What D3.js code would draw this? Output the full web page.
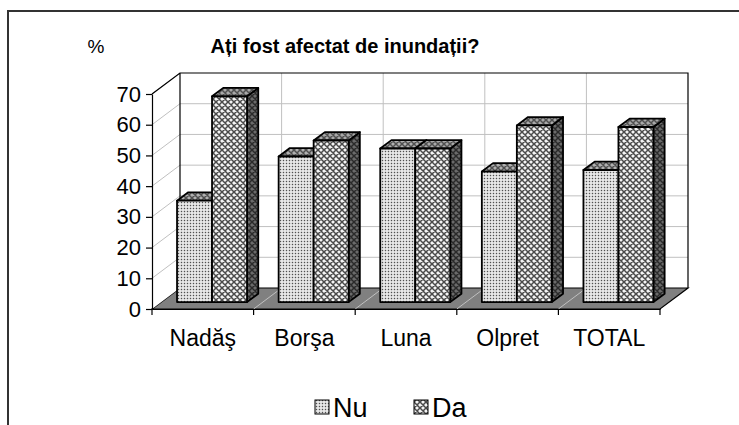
<!DOCTYPE html>
<html>
<head>
<meta charset="utf-8">
<script src="https://cdn.jsdelivr.net/npm/d3@7"></script>
<style>
  body { margin: 0; background: #fff; }
  svg { display: block; font-family: "Liberation Sans", Arial, sans-serif; }
</style>
</head>
<body>
<div id="chart"></div>
<script>
// Chart data
const categories = ['Nadăş', 'Borşa', 'Luna', 'Olpret', 'TOTAL'];
const seriesNames = ['Nu', 'Da'];
const nuValues = [33, 47.4, 50, 42.5, 43];
const daValues = [67, 52.6, 50, 57.5, 57];
const yTicks = [0, 10, 20, 30, 40, 50, 60, 70];

const width = 739;
const height = 425;

const svg = d3.select('#chart')
    .append('svg')
    .attr('width', width)
    .attr('height', height);

// Patterns (front, top, side shades for each series)
const defs = svg.append('defs');

function dotPattern(id, bg, fg) {
    const p = defs.append('pattern')
        .attr('id', id)
        .attr('patternUnits', 'userSpaceOnUse')
        .attr('width', 3).attr('height', 3);
    p.append('rect').attr('width', 3).attr('height', 3).attr('fill', bg);
    p.append('rect').attr('x', 0.8).attr('y', 0.8).attr('width', 1.4).attr('height', 1.4).attr('fill', fg);
}

function crossPattern(id, bg, fg) {
    const p = defs.append('pattern')
        .attr('id', id)
        .attr('patternUnits', 'userSpaceOnUse')
        .attr('width', 6).attr('height', 6);
    p.append('rect').attr('width', 6).attr('height', 6).attr('fill', bg);
    p.append('path')
        .attr('d', 'M0,0L6,6M6,0L0,6M-1,5L1,7M5,-1L7,1M-1,1L1,-1M5,7L7,5')
        .attr('stroke', fg)
        .attr('stroke-width', 1.5);
}

dotPattern('nu-front', '#eeeeee', '#505050');
crossPattern('nu-top', '#b0b0b0', '#505050');
crossPattern('nu-side', '#707070', '#303030');
crossPattern('da-front', '#f4f4f4', '#4a4a4a');
crossPattern('da-top', '#a8a8a8', '#505050');
crossPattern('da-side', '#6a6a6a', '#2a2a2a');

const fills = {
    Nu: { front: 'url(#nu-front)', top: 'url(#nu-top)', side: 'url(#nu-side)' },
    Da: { front: 'url(#da-front)', top: 'url(#da-top)', side: 'url(#da-side)' }
};

// Outer frame
svg.append('path')
    .attr('d', 'M8,425V11H739')
    .attr('fill', 'none')
    .attr('stroke', '#333')
    .attr('stroke-width', 2);

// Scales
const x = d3.scaleBand()
    .domain(categories)
    .range([152, 660]);

const y = d3.scaleLinear()
    .domain([0, 70])
    .range([309, 94]);

const series = d3.scaleBand()
    .domain(seriesNames)
    .range([(x.bandwidth() - 70) / 2, (x.bandwidth() + 70) / 2]);

// 3D depth offsets
const depthX = 28;
const depthY = -21;
const barFront = 0.33;
const barDepth = 0.4;

const x0 = x.range()[0];
const x1 = x.range()[1];
const yMin = y(0);
const yMax = y(70);

const walls = svg.append('g');

// Floor
walls.append('polygon')
    .attr('points', [[x0, yMin], [x1, yMin], [x1 + depthX, yMin + depthY], [x0 + depthX, yMin + depthY]].join(' '))
    .attr('fill', '#808080')
    .attr('stroke', '#000')
    .attr('stroke-width', 1.2);

// Floor gridlines
walls.selectAll('.floor-grid')
    .data(categories.slice(1))
    .enter()
    .append('line')
    .attr('x1', d => x(d))
    .attr('y1', yMin)
    .attr('x2', d => x(d) + depthX)
    .attr('y2', yMin + depthY)
    .attr('stroke', '#c0c0c0')
    .attr('stroke-width', 1);

// Left wall
walls.append('polygon')
    .attr('points', [[x0, yMin], [x0 + depthX, yMin + depthY], [x0 + depthX, yMax + depthY], [x0, yMax]].join(' '))
    .attr('fill', '#fff');

walls.selectAll('.side-grid')
    .data(yTicks.slice(1))
    .enter()
    .append('line')
    .attr('x1', x0)
    .attr('y1', d => y(d))
    .attr('x2', x0 + depthX)
    .attr('y2', d => y(d) + depthY)
    .attr('stroke', '#c0c0c0')
    .attr('stroke-width', 1);

// Back wall gridlines
walls.selectAll('.back-h')
    .data(yTicks.slice(1, -1))
    .enter()
    .append('line')
    .attr('x1', x0 + depthX)
    .attr('x2', x1 + depthX)
    .attr('y1', d => y(d) + depthY)
    .attr('y2', d => y(d) + depthY)
    .attr('stroke', '#c0c0c0')
    .attr('stroke-width', 1);

walls.selectAll('.back-v')
    .data(categories.slice(1))
    .enter()
    .append('line')
    .attr('x1', d => x(d) + depthX)
    .attr('x2', d => x(d) + depthX)
    .attr('y1', yMin + depthY)
    .attr('y2', yMax + depthY)
    .attr('stroke', '#c0c0c0')
    .attr('stroke-width', 1);

// Wall borders
walls.append('path')
    .attr('d', `M${x0},${yMax}L${x0 + depthX},${yMax + depthY}H${x1 + depthX}V${yMin + depthY}M${x0 + depthX},${yMax + depthY}V${yMin + depthY}`)
    .attr('fill', 'none')
    .attr('stroke', '#000')
    .attr('stroke-width', 1.2);

// Y axis
const yAxis = d3.axisLeft(y)
    .tickValues(yTicks)
    .tickSize(6)
    .tickPadding(5)
    .tickSizeOuter(0);

svg.append('g')
    .attr('transform', `translate(${x0},0)`)
    .call(yAxis)
    .call(g => g.select('.domain').attr('stroke', '#000').attr('stroke-width', 1.2))
    .call(g => g.selectAll('.tick line').attr('stroke', '#000').attr('stroke-width', 1.2))
    .call(g => g.selectAll('.tick text')
        .attr('fill', '#000')
        .style('font-size', '22px')
        .style('font-family', '"Liberation Sans", Arial, sans-serif'));

// X axis
const xAxis = d3.axisBottom(x)
    .tickSize(0)
    .tickPadding(21)
    .tickSizeOuter(0);

const xg = svg.append('g')
    .attr('transform', `translate(0,${yMin})`)
    .call(xAxis)
    .call(g => g.select('.domain').attr('stroke', '#000').attr('stroke-width', 1.2))
    .call(g => g.selectAll('.tick text')
        .attr('fill', '#000')
        .style('font-size', '23px')
        .style('font-family', '"Liberation Sans", Arial, sans-serif'));

xg.selectAll('.cat-tick')
    .data(categories.concat(['end']))
    .enter()
    .append('line')
    .attr('x1', (d, i) => x0 + i * x.step())
    .attr('x2', (d, i) => x0 + i * x.step())
    .attr('y1', 0)
    .attr('y2', 6)
    .attr('stroke', '#000')
    .attr('stroke-width', 1.2);

// Bars
const rows = categories.map((c, i) => ({ category: c, Nu: nuValues[i], Da: daValues[i] }));

const offX = depthX * barFront;
const offY = depthY * barFront;
const bdx = depthX * barDepth;
const bdy = depthY * barDepth;

const bars = svg.append('g');

rows.forEach(row => {
    seriesNames.forEach(s => {
        const left = x(row.category) + series(s) + offX;
        const right = left + series.bandwidth();
        const top = y(row[s]) + offY;
        const bottom = y(0) + offY;
        const g = bars.append('g')
            .attr('stroke', '#000')
            .attr('stroke-width', 1.8)
            .attr('stroke-linejoin', 'round');

        g.append('polygon')
            .attr('points', [[right, top], [right + bdx, top + bdy], [right + bdx, bottom + bdy], [right, bottom]].join(' '))
            .attr('fill', fills[s].side);

        g.append('polygon')
            .attr('points', [[left, top], [left + bdx, top + bdy], [right + bdx, top + bdy], [right, top]].join(' '))
            .attr('fill', fills[s].top);

        g.append('rect')
            .attr('x', left)
            .attr('y', top)
            .attr('width', right - left)
            .attr('height', bottom - top)
            .attr('fill', fills[s].front);
    });
});

// Titles
svg.append('text')
    .attr('x', 345)
    .attr('y', 53)
    .attr('text-anchor', 'middle')
    .style('font-size', '20px')
    .style('font-weight', 'bold')
    .text('Ați fost afectat de inundații?');

svg.append('text')
    .attr('x', 96)
    .attr('y', 53)
    .attr('text-anchor', 'middle')
    .style('font-size', '19px')
    .text('%');

// Legend
const legend = svg.append('g')
    .attr('transform', 'translate(315,0)');

const legendItems = legend.selectAll('g')
    .data(seriesNames)
    .enter()
    .append('g')
    .attr('transform', (d, i) => `translate(${i * 99},0)`);

legendItems.append('rect')
    .attr('x', 0)
    .attr('y', 400)
    .attr('width', 14)
    .attr('height', 14)
    .attr('fill', d => fills[d].front)
    .attr('stroke', '#000')
    .attr('stroke-width', 1);

legendItems.append('text')
    .attr('x', 18)
    .attr('y', 417)
    .style('font-size', '27px')
    .text(d => d);
</script>
</body>
</html>
